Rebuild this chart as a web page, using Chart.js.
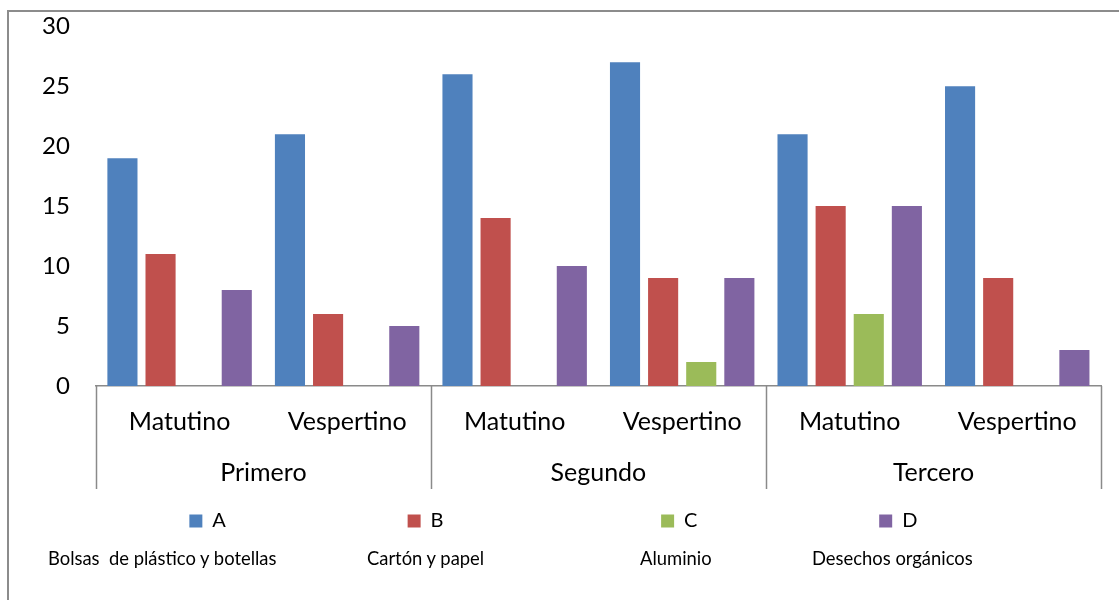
<!DOCTYPE html>
<html><head><meta charset="utf-8">
<script src="https://cdn.jsdelivr.net/npm/chart.js@4.4.1/dist/chart.umd.min.js"></script>
<style>
html,body{margin:0;padding:0;background:#fff;overflow:hidden}
#wrap{position:relative;width:1119px;height:600px;overflow:hidden}
#frame{position:absolute;left:7px;top:10px;width:1300px;height:800px;border-left:2px solid #8c8c8c;border-top:2px solid #8c8c8c}
canvas{position:absolute;left:0;top:0}
.desc{position:absolute;top:548px;font:18.4px Lato;line-height:20px;color:#000;white-space:pre}
</style></head><body>
<div id="wrap"><div id="frame"></div><canvas id="c" width="1119" height="600"></canvas></div>
<script>
const categories = ['Matutino','Vespertino','Matutino','Vespertino','Matutino','Vespertino'];
const groups = ['Primero','Segundo','Tercero'];
const seriesNames = ['A','B','C','D'];
const descriptions = ['Bolsas  de plástico y botellas','Cartón y papel','Aluminio','Desechos orgánicos'];
const valuesA = [19,21,26,27,21,25];
const valuesB = [11,6,14,9,15,9];
const valuesC = [0,0,0,2,6,0];
const valuesD = [8,5,10,9,15,3];
const yMin = 0, yMax = 30, yStep = 5;

const colors = ['#4F81BD','#C0504D','#9BBB59','#8064A2'];
const descLeft = [48,367,640,812];
const legendGaps = [216,252,216];
const lastLegendWidth = 47;

const wrap = document.getElementById('wrap');
descriptions.forEach((t,i)=>{
  const s = document.createElement('span');
  s.className='desc'; s.style.left = descLeft[i]+'px'; s.textContent = t;
  wrap.appendChild(s);
});

const separators = {
  id:'separators',
  afterDraw(chart){
    const x2 = chart.scales.x2, ctx = chart.ctx;
    const half = (x2.getPixelForValue(1) - x2.getPixelForValue(0))/2;
    ctx.save();
    ctx.strokeStyle = '#8a8a8a'; ctx.lineWidth = 1.5;
    ctx.beginPath();
    for (let j=0;j<=groups.length;j++){
      const px = Math.round(x2.getPixelForValue(0) - half + j*2*half) + 0.5;
      ctx.moveTo(px, chart.chartArea.bottom);
      ctx.lineTo(px, x2.bottom + 1);
    }
    ctx.stroke();
    ctx.restore();
  }
};

const legendFontSize = 20;
new Chart(document.getElementById('c'), {
  type:'bar',
  data:{
    labels: categories,
    datasets:[
      {label:seriesNames[0], data:valuesA, backgroundColor:colors[0]},
      {label:seriesNames[1], data:valuesB, backgroundColor:colors[1]},
      {label:seriesNames[2], data:valuesC, backgroundColor:colors[2]},
      {label:seriesNames[3], data:valuesD, backgroundColor:colors[3]}
    ]
  },
  options:{
    responsive:false, animation:false,
    datasets:{bar:{categoryPercentage:0.91, barPercentage:0.79, borderWidth:0}},
    layout:{padding:{top:26,left:16,right:18,bottom:59}},
    plugins:{
      tooltip:{enabled:false},
      legend:{
        position:'bottom',
        labels:{
          color:'#000', font:{family:'Lato', size:legendFontSize}, boxWidth:13, boxHeight:13, padding:23,
          generateLabels(chart){
            const items = Chart.defaults.plugins.legend.labels.generateLabels(chart);
            const o = chart.options.plugins.legend.labels;
            const ctx = chart.ctx; ctx.save(); ctx.font = legendFontSize + 'px Lato';
            const sp = ctx.measureText(' ').width;
            items.forEach((it,i)=>{
              const target = (i < legendGaps.length ? legendGaps[i] - o.padding : lastLegendWidth) - o.boxWidth - legendFontSize/2;
              const w = ctx.measureText(it.text).width;
              const n = Math.max(0, Math.round((target - w)/sp));
              it.text = it.text + ' '.repeat(n);
              it.lineWidth = 0;
            });
            ctx.restore();
            return items;
          }
        }
      }
    },
    scales:{
      x:{
        position:'bottom',
        grid:{display:false, drawTicks:false},
        border:{display:true, color:'#8a8a8a', width:1.5},
        ticks:{color:'#000', font:{family:'Lato', size:25}, padding:21, maxRotation:0, autoSkip:false}
      },
      x2:{
        type:'category', labels:groups, position:'bottom', offset:true, weight:1,
        grid:{display:false, drawTicks:false},
        border:{display:false},
        ticks:{color:'#000', font:{family:'Lato', size:25}, padding:0, maxRotation:0}
      },
      y:{
        min:yMin, max:yMax,
        grid:{display:false, drawTicks:false},
        border:{display:false},
        ticks:{stepSize:yStep, color:'#000', font:{family:'Lato', size:24, lineHeight:0.02}, padding:26}
      }
    }
  },
  plugins:[separators]
});
</script>
</body></html>
